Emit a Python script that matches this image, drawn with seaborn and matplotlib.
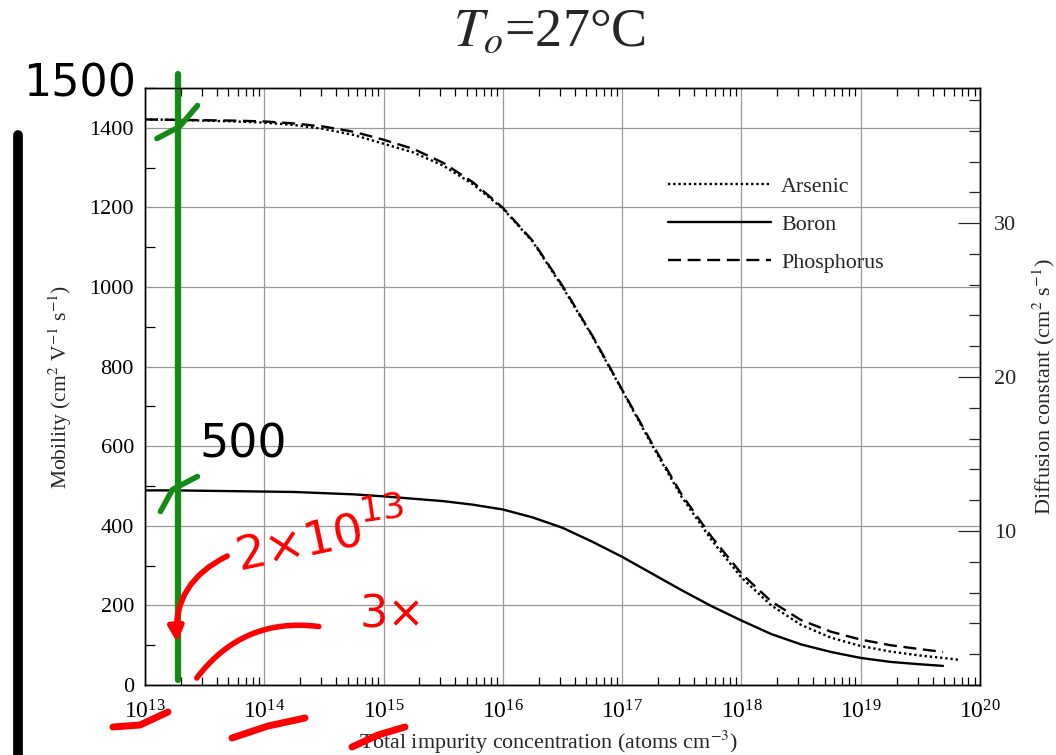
import pandas as pd
import matplotlib
matplotlib.use('Agg')
import matplotlib.pyplot as plt
from matplotlib.lines import Line2D
from matplotlib.ticker import MultipleLocator, FixedLocator, LogLocator, LogFormatterMathtext, NullFormatter
import seaborn as sns

# exponents of the impurity concentration (atoms cm^-3) where the curves were read
arsenic_logn = [13.0, 13.25, 13.5, 13.75, 14.0, 14.25, 14.5, 14.75, 15.0, 15.25, 15.5, 15.75,
                16.0, 16.25, 16.5, 16.75, 17.0, 17.25, 17.5, 17.75, 18.0, 18.25, 18.5, 18.75,
                19.0, 19.25, 19.5, 19.75, 19.83]
arsenic_mu = [1421, 1420, 1418, 1416, 1413, 1407, 1397, 1382, 1360, 1338, 1305, 1258,
              1197, 1114, 1000, 876, 740, 603, 472, 364, 270, 200, 151, 119,
              98, 84, 74, 66, 63]

boron_logn = [13.0, 13.25, 13.5, 13.75, 14.0, 14.25, 14.5, 14.75, 15.0, 15.25, 15.5, 15.75,
              16.0, 16.25, 16.5, 16.75, 17.0, 17.25, 17.5, 17.75, 18.0, 18.25, 18.5, 18.75,
              19.0, 19.25, 19.5, 19.69]
boron_mu = [489, 489, 488, 487, 486, 485, 482, 479, 474, 468, 462, 453,
            441, 421, 395, 360, 322, 280, 238, 198, 162, 128, 102, 83,
            68, 58, 52, 48]

phosphorus_logn = [13.0, 13.25, 13.5, 13.75, 14.0, 14.25, 14.5, 14.75, 15.0, 15.25, 15.5, 15.75,
                   16.0, 16.25, 16.5, 16.75, 17.0, 17.25, 17.5, 17.75, 18.0, 18.25, 18.5, 18.75,
                   19.0, 19.25, 19.5, 19.69]
phosphorus_mu = [1421, 1420, 1419, 1418, 1416, 1411, 1403, 1390, 1370, 1347, 1312, 1263,
                 1199, 1116, 1003, 878, 742, 607, 478, 372, 280, 210, 163, 134,
                 114, 100, 90, 83]

dopants = ['Arsenic', 'Boron', 'Phosphorus']
kT_q = 0.02585  # thermal voltage at 27 C, D = mu * kT/q

frames = []
for name, logn, mu in [('Arsenic', arsenic_logn, arsenic_mu),
                       ('Boron', boron_logn, boron_mu),
                       ('Phosphorus', phosphorus_logn, phosphorus_mu)]:
    frames.append(pd.DataFrame({'conc': [10.0 ** v for v in logn], 'mobility': mu, 'dopant': name}))
df = pd.concat(frames, ignore_index=True)

sns.set_style('ticks')
plt.rcParams['font.family'] = ['Liberation Serif', 'DejaVu Serif']
plt.rcParams['mathtext.fontset'] = 'stix'

fig = plt.figure(figsize=(10.56, 7.55), dpi=100)
ax = fig.add_axes([145 / 1056, 1 - 685 / 755, 835 / 1056, 597 / 755])

sns.lineplot(data=df, x='conc', y='mobility', hue='dopant', style='dopant',
             hue_order=dopants, style_order=dopants,
             palette={d: 'black' for d in dopants},
             dashes={'Arsenic': (1, 1.2), 'Boron': '', 'Phosphorus': (5.5, 2.8)},
             linewidth=1.7, ax=ax)

ax.set_xscale('log')
ax.set_xlim(1e13, 1e20)
ax.set_ylim(0, 1500)
ax.xaxis.set_major_locator(LogLocator(base=10, numticks=10))
ax.xaxis.set_major_formatter(LogFormatterMathtext())
ax.xaxis.set_minor_locator(LogLocator(base=10, subs=range(2, 10), numticks=20))
ax.xaxis.set_minor_formatter(NullFormatter())
ax.yaxis.set_major_locator(MultipleLocator(200))
ax.yaxis.set_minor_locator(MultipleLocator(100))
ax.grid(True, which='major', color='0.6', lw=0.9)
ax.tick_params(which='both', direction='in', top=True, colors='black')
ax.tick_params(axis='x', which='major', length=0, pad=11, labelsize=17)
ax.tick_params(axis='x', which='minor', length=6, width=0.9)
ax.tick_params(axis='y', which='major', length=0, pad=8, labelsize=16)
ax.tick_params(axis='y', which='minor', length=7, width=0.9)
for sp in ax.spines.values():
    sp.set_color('black')
    sp.set_linewidth(1.0)

ax.set_xlabel('Total impurity concentration (atoms cm$^{-3}$)', fontsize=15.8)
ax.set_ylabel('Mobility (cm$^2$ V$^{-1}$ s$^{-1}$)', fontsize=15.5)
ax.xaxis.set_label_coords(0.483, -0.074)
ax.yaxis.set_label_coords(-0.085, 0.5)

handles, labels = ax.get_legend_handles_labels()
ax.legend(handles, labels, loc='upper left', bbox_to_anchor=(0.603, 0.885), frameon=False,
          fontsize=15.8, handlelength=4.7, labelspacing=0.8, handletextpad=0.45)

ax2 = ax.twinx()
ax2.set_ylim(0, 1500 * kT_q)
ax2.yaxis.set_major_locator(FixedLocator([10, 20, 30]))
ax2.yaxis.set_minor_locator(MultipleLocator(2))
ax2.tick_params(which='both', direction='in', labelsize=16)
ax2.tick_params(which='major', length=16, width=0.9, pad=10)
ax2.tick_params(which='minor', length=8, width=0.9)
ax2.set_ylabel('Diffusion constant (cm$^2$ s$^{-1}$)', fontsize=16)
ax2.yaxis.set_label_coords(1.06, 0.5)
for sp in ax2.spines.values():
    sp.set_color('black')
    sp.set_linewidth(1.0)

fig.text(0.52, 1 - 33 / 755, '$T_o$=27°C', ha='center', va='center', fontsize=39)

# hand-drawn markings on the scan
green = '#138a13'
ax.plot([1.9e13, 1.9e13], [12, 1535], color=green, lw=4.5, clip_on=False, zorder=10)
ax.plot([10 ** 13.10, 10 ** 13.29, 10 ** 13.44], [1373, 1403, 1456], color=green, lw=4, clip_on=False, zorder=10)
ax.plot([10 ** 13.13, 10 ** 13.23, 10 ** 13.44], [436, 491, 524], color=green, lw=4, clip_on=False, zorder=10)


def fx(px):
    return px / 1056


def fy(py):
    return 1 - py / 755


hand = dict(family='DejaVu Sans', ha='center', va='center')
fig.text(fx(80), fy(84), '1500', color='black', fontsize=32, **hand)
fig.text(fx(243), fy(445), '500', color='black', fontsize=33, **hand)
fig.text(fx(300), fy(545), '2×10', color='red', fontsize=34, rotation=12, **hand)
fig.text(fx(382), fy(508), '13', color='red', fontsize=26, rotation=8, **hand)
fig.text(fx(392), fy(615), '3×', color='red', fontsize=32, **hand)
fig.add_artist(Line2D([fx(18), fx(18)], [fy(135), fy(755)], color='black', lw=7))

red_strokes = [([113, 140, 168], [727, 725, 712]),
               ([232, 268, 305], [738, 726, 718]),
               ([352, 378, 405], [747, 735, 727])]
for xs, ys in red_strokes:
    fig.add_artist(Line2D([fx(v) for v in xs], [fy(v) for v in ys], color='red', lw=5,
                          solid_capstyle='round'))

ax.annotate('', xy=(10 ** 13.27, 100), xytext=(10 ** 13.71, 327),
            arrowprops=dict(arrowstyle='-|>', color='red', lw=4, mutation_scale=22,
                            connectionstyle='arc3,rad=0.35'), zorder=11)
ax.annotate('', xy=(10 ** 14.48, 146), xytext=(10 ** 13.42, 12),
            arrowprops=dict(arrowstyle='-', color='red', lw=4,
                            connectionstyle='arc3,rad=-0.3'), zorder=11)

fig.savefig('out.png', dpi=100)
